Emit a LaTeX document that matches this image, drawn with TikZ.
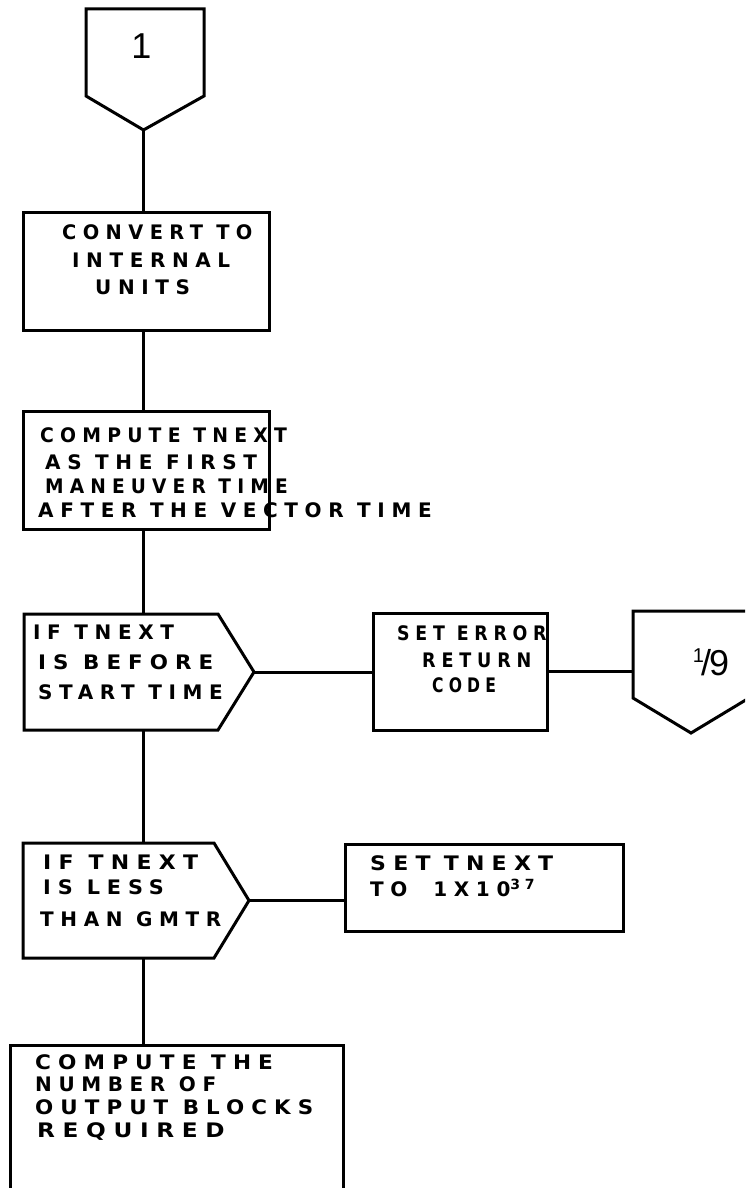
\documentclass[tikz,border=0pt]{standalone}
\usepackage{graphicx}
\usepackage{fontspec}
\newfontfamily\hand{DejaVu Sans}[LetterSpace=33]
\newfontfamily\handone{Liberation Sans}
\newcommand\hwide[2]{\scalebox{#1}[1]{#2}}
\usetikzlibrary{calc}
\tikzset{
  ghost/.style={draw=none, inner sep=0pt, outer sep=0pt},
  pbox/.style={draw, line width=3pt, inner sep=0pt, outer sep=0pt},
  outline/.style={draw, line width=3pt, line join=miter},
  wire/.style={line width=3pt},
  txt/.style={font=\hand\bfseries\fontsize{20}{20}\selectfont, anchor=west, inner sep=0pt},
}
\begin{document}
\begin{tikzpicture}[x=1pt, y=-1pt]
\useasboundingbox (0,0) rectangle (745,1188);
\clip (0,0) rectangle (745,1188);

% ---- off-page connector 1
\node[ghost, minimum width=118pt, minimum height=87pt] (c1) at (145,52.5) {};
\coordinate (c1tip) at (143.5,130);
\draw[outline] (c1.north west) -- (c1.north east) -- (c1.south east) -- (c1tip) -- (c1.south west) -- cycle;
\node[font=\handone\fontsize{36}{36}\selectfont, inner sep=0pt] (t1) at (141.5,46) {1};

% ---- box: convert
\node[pbox, minimum width=246pt, minimum height=118pt] (b1) at (146,271) {};
\node[txt] (b1a) at (62,232) {\hwide{0.97}{CONVERT TO}};
\node[txt] (b1b) at (72,260) {INTERNAL};
\node[txt] (b1c) at (95,287) {UNITS};

% ---- box: compute tnext
\node[pbox, minimum width=246pt, minimum height=118pt] (b2) at (146,470) {};
\node[txt] (b2a) at (40,435) {\hwide{0.94}{COMPUTE TNEXT}};
\node[txt] (b2b) at (45,462) {AS THE FIRST};
\node[txt] (b2c) at (45,486) {\hwide{0.93}{MANEUVER TIME}};
\node[txt] (b2d) at (38,510) {AFTER THE VECTOR TIME};

% ---- decision 1
\node[ghost, minimum width=194pt, minimum height=116pt] (d1) at (121,672) {};
\coordinate (d1tip) at (254,672);
\draw[outline] (d1.north west) -- (d1.north east) -- (d1tip) -- (d1.south east) -- (d1.south west) -- cycle;
\node[txt] (d1a) at (33,632) {IF TNEXT};
\node[txt] (d1b) at (38,662) {\hwide{1.07}{IS BEFORE}};
\node[txt] (d1c) at (38,692) {START TIME};

% ---- set error
\node[pbox, minimum width=174pt, minimum height=117pt] (e1) at (460,671.5) {};
\node[txt] (e1a) at (397,633) {\hwide{0.87}{SET ERROR}};
\node[txt] (e1b) at (422,660) {\hwide{0.88}{RETURN}};
\node[txt] (e1c) at (432,685) {\hwide{0.78}{CODE}};

% ---- off-page connector 1/9
\node[ghost, minimum width=116pt, minimum height=87pt] (c19) at (691,654.5) {};
\coordinate (c19tip) at (691,733);
\draw[outline] (c19.north west) -- (c19.north east) -- (c19.south east) -- (c19tip) -- (c19.south west) -- cycle;
\node[font=\handone\fontsize{36}{36}\selectfont, inner sep=0pt] (t19) at (711,662)
  {{\fontsize{20}{20}\selectfont\raisebox{13pt}{1}}\kern-3pt/\kern-2pt9};

% ---- decision 2
\node[ghost, minimum width=191pt, minimum height=115pt] (d2) at (118.5,900.5) {};
\coordinate (d2tip) at (249,900.5);
\draw[outline] (d2.north west) -- (d2.north east) -- (d2tip) -- (d2.south east) -- (d2.south west) -- cycle;
\node[txt] (d2a) at (43,862) {\hwide{1.1}{IF TNEXT}};
\node[txt] (d2b) at (43,887) {\hwide{1.04}{IS LESS}};
\node[txt] (d2c) at (40,919) {THAN GMTR};

% ---- set tnext
\node[pbox, minimum width=278pt, minimum height=87pt] (s2) at (484,887.5) {};
\node[txt] (s2a) at (370,863) {\hwide{1.1}{SET\hspace{12pt}TNEXT}};
\node[txt] (s2b) at (370,888) {TO\hspace{26pt}1X10\textsuperscript{37}};

% ---- final box
\node[pbox, minimum width=333pt, minimum height=160pt] (f) at (176.5,1125) {};
\node[txt] (fa) at (35,1062) {\hwide{1.08}{COMPUTE THE}};
\node[txt] (fb) at (35,1084) {NUMBER OF};
\node[txt] (fc) at (35,1107) {\hwide{1.07}{OUTPUT BLOCKS}};
\node[txt] (fd) at (37,1132) {\hwide{1.16}{REQUIRED}};

% ---- connectors
\draw[wire] (c1tip) -- (c1tip |- b1.north);
\draw[wire] (b1.south -| c1tip) -- (c1tip |- b2.north);
\draw[wire] (b2.south -| c1tip) -- (c1tip |- d1.north);
\draw[wire] (d1tip) -- (d1tip -| e1.west);
\draw[wire] (e1.east) -- (e1.east -| c19.west);
\draw[wire] (d1.south -| c1tip) -- (c1tip |- d2.north);
\draw[wire] (d2tip) -- (d2tip -| s2.west);
\draw[wire] (d2.south -| c1tip) -- (c1tip |- f.north);
\end{tikzpicture}
\end{document}
